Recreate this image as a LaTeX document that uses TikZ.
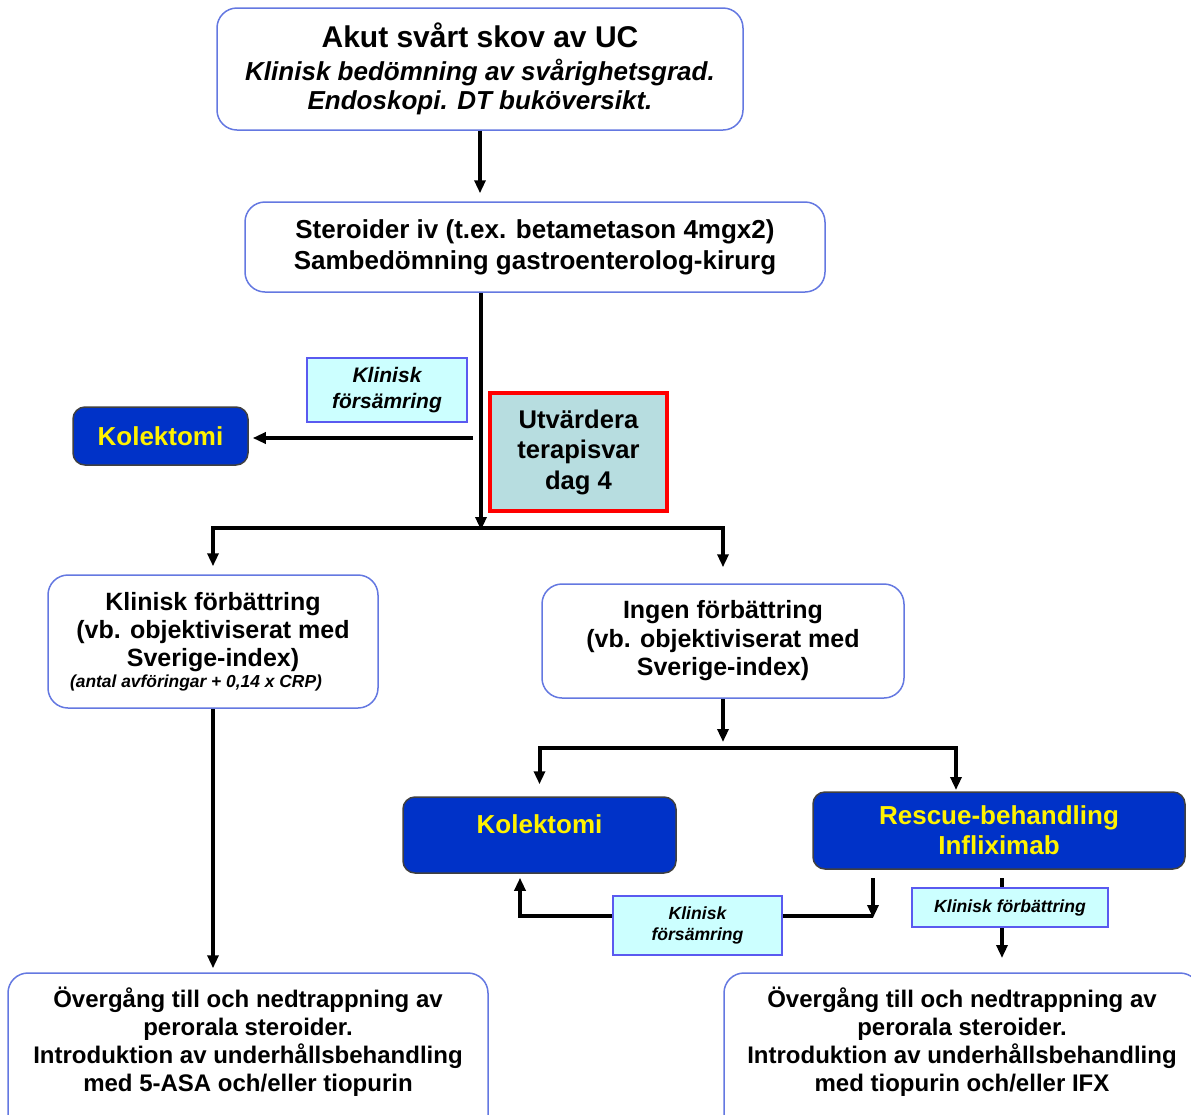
\documentclass[tikz,border=0pt]{standalone}
\usepackage{fontspec}
\setmainfont{Liberation Sans}
\usetikzlibrary{arrows.meta}

\definecolor{boxblue}{RGB}{100,120,225}
\definecolor{kolblue}{RGB}{0,50,200}
\definecolor{labcyan}{RGB}{204,255,255}
\definecolor{labblue}{RGB}{90,90,240}
\definecolor{evalfill}{RGB}{183,221,224}

\tikzset{
  whitebox/.style={draw=boxblue,line width=0.75pt,rounded corners=10pt,fill=white,align=center,inner sep=0pt,font=\bfseries\fontsize{12.5}{14}\selectfont},
  kolbox/.style={draw=black!75,line width=0.75pt,rounded corners=6pt,fill=kolblue,text=yellow,align=center,inner sep=0pt,font=\bfseries\fontsize{13}{15}\selectfont},
  labbox/.style={draw=labblue,line width=0.75pt,fill=labcyan,align=center,inner sep=0pt,font=\bfseries\itshape\fontsize{10.5}{13}\selectfont},
  evalbox/.style={draw=red,line width=2pt,fill=evalfill,align=center,inner sep=0pt,font=\bfseries\fontsize{12.8}{15.25}\selectfont},
  flow/.style={line width=1.6pt},
  split/.style={line width=2pt},
  >={Triangle[length=6.5pt,width=5.5pt]}
}

\begin{document}
\begin{tikzpicture}[x=0.5pt,y=-0.5pt]
\useasboundingbox (0,0) rectangle (1191,1115);
\clip (0,0) rectangle (1191,1115);

% boxes
\node[whitebox,minimum width=263pt,minimum height=61pt,font=\bfseries\itshape\fontsize{13}{14.5}\selectfont] (acute) at (480,69)
  {{\upshape\fontsize{15}{16.5}\selectfont Akut svårt skov av UC}\\[2pt] Klinisk bedömning av svårighetsgrad.\\ Endoskopi. DT buköversikt.};
\node[whitebox,minimum width=290pt,minimum height=45pt,font=\bfseries\fontsize{13}{15.5}\selectfont] (steroid) at (535,247)
  {Steroider iv (t.ex. betametason 4mgx2)\\ Sambedömning gastroenterolog-kirurg};
\node[kolbox,minimum width=87.5pt,minimum height=29pt] (kol1) at (160.5,436) {Kolektomi};
\node[evalbox,minimum width=88.5pt,minimum height=59pt] (eval) at (578.5,452) {Utvärdera\\ terapisvar\\ dag 4};
\node[whitebox,minimum width=165pt,minimum height=66.5pt] (better) at (213,641.5)
  {Klinisk förbättring\\ (vb. objektiviserat med\\ Sverige-index)\\[-3.5pt] {\itshape\fontsize{8.7}{10}\selectfont (antal avföringar + 0,14 x CRP)}\hspace*{17pt}};
\node[whitebox,minimum width=181pt,minimum height=57pt,font=\bfseries\fontsize{12.5}{14.25}\selectfont] (nobetter) at (723,641)
  {Ingen förbättring\\ (vb. objektiviserat med\\ Sverige-index)};
\node[kolbox,minimum width=136.5pt,minimum height=38pt,text depth=11pt] (kol2) at (539.5,835) {Kolektomi};
\node[kolbox,minimum width=186pt,minimum height=38.5pt] (rescue) at (999,830.5) {Rescue-behandling\\ Infliximab};
\node[whitebox,minimum width=240pt,minimum height=83.5pt,text depth=17pt,font=\bfseries\fontsize{12}{14}\selectfont] (restleft) at (248,1056.5)
  {Övergång till och nedtrappning av\\ perorala steroider.\\ Introduktion av underhållsbehandling\\ med 5-ASA och/eller tiopurin};
\node[whitebox,minimum width=238pt,minimum height=83.5pt,text depth=17pt,font=\bfseries\fontsize{12}{14}\selectfont] (restright) at (962,1056.5)
  {Övergång till och nedtrappning av\\ perorala steroider.\\ Introduktion av underhållsbehandling\\ med tiopurin och/eller IFX};

% connector points
\coordinate (split) at (481,528);
\coordinate (worse) at (473,438);
\coordinate (split2) at (723,748);
\coordinate (rdown) at (873,878);
\coordinate (rcorner) at (873,916);
\coordinate (lcorner) at (520,916);
\coordinate (inflx) at (1002,878);

\draw[flow,->,shorten >=4pt] (acute.south) -- (acute.south |- steroid.north);
\draw[flow,->] (steroid.south -| split) -- ([yshift=-1pt]split);
\draw[split,->,shorten >=4pt] (split) -| (better.north);
\draw[split,->,shorten >=8pt] (split) -| (nobetter.north);
\draw[flow,->,shorten >=2pt] (worse) -- (worse -| kol1.east);
\draw[flow,->,shorten >=2pt] (better.south) -- (better.south |- restleft.north);
\draw[flow,->] (nobetter.south) -- ([yshift=3pt]split2);
\draw[split,->,shorten >=6pt] (split2) -| (kol2.north);
\draw[split,->] (split2) -| (956,790);
\draw[flow,->] (rdown) -- ([yshift=-1pt]rcorner);
\draw[flow,->,shorten >=2pt] (rcorner) -- (lcorner) -- (lcorner |- kol2.south);
\draw[flow,->] (inflx) -- (1002,958);

% labels on top of the lines
\node[labbox,minimum width=80pt,minimum height=32pt] (worse1) at (387,390) {Klinisk\\ försämring};
\node[labbox,minimum width=84.5pt,minimum height=29.5pt,font=\bfseries\itshape\fontsize{8.8}{10.5}\selectfont] (worse2) at (697.5,925.5) {Klinisk\\ försämring};
\node[labbox,minimum width=98pt,minimum height=19.5pt,font=\bfseries\itshape\fontsize{8.8}{10.5}\selectfont] (better2) at (1010,907.5) {Klinisk förbättring};
\end{tikzpicture}
\end{document}
